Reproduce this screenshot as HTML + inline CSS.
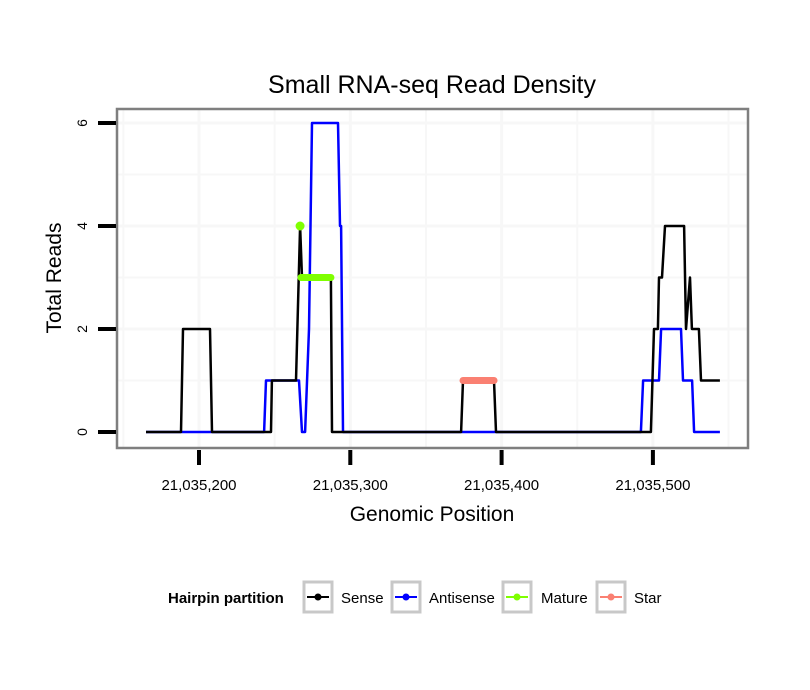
<!DOCTYPE html>
<html><head><meta charset="utf-8"><style>
body{margin:0;background:#fff;}
svg{display:block;font-family:"Liberation Sans",sans-serif;}
</style></head><body>
<svg id="chart" width="810" height="690">
<rect x="0" y="0" width="810" height="690" fill="#fff"/>
<text x="432" y="93" font-size="25" text-anchor="middle">Small RNA-seq Read Density</text>
<text x="432" y="521" font-size="21" text-anchor="middle">Genomic Position</text>
<text transform="translate(61,278) rotate(-90)" font-size="21" text-anchor="middle">Total Reads</text>
<g id="panel"></g>
<g>
<text x="168" y="603" font-size="15" font-weight="bold">Hairpin partition</text>
<g>
<rect x="304" y="582" width="28" height="30" fill="#fff" stroke="#c8c8c8" stroke-width="3"/>
<line x1="307" y1="597" x2="329" y2="597" stroke="#000" stroke-width="2"/><circle cx="318" cy="597" r="3.5" fill="#000"/>
<text x="341" y="603" font-size="15">Sense</text></g>
<g>
<rect x="392" y="582" width="28" height="30" fill="#fff" stroke="#c8c8c8" stroke-width="3"/>
<line x1="395" y1="597" x2="417" y2="597" stroke="#0000ff" stroke-width="2"/><circle cx="406" cy="597" r="3.5" fill="#0000ff"/>
<text x="429" y="603" font-size="15">Antisense</text></g>
<g>
<rect x="503" y="582" width="28" height="30" fill="#fff" stroke="#c8c8c8" stroke-width="3"/>
<line x1="506" y1="597" x2="528" y2="597" stroke="#7fff00" stroke-width="2"/><circle cx="517" cy="597" r="3.5" fill="#7fff00"/>
<text x="541" y="603" font-size="15">Mature</text></g>
<g>
<rect x="597" y="582" width="28" height="30" fill="#fff" stroke="#c8c8c8" stroke-width="3"/>
<line x1="600" y1="597" x2="622" y2="597" stroke="#fa8072" stroke-width="2"/><circle cx="611" cy="597" r="3.5" fill="#fa8072"/>
<text x="634" y="603" font-size="15">Star</text></g>
</g>
</svg>
<script>
// positions are offsets from 21,035,000
const xTicks = [200, 300, 400, 500];
const xTickLabels = ["21,035,200", "21,035,300", "21,035,400", "21,035,500"];
const yTicks = [0, 2, 4, 6];
const senseX = [165, 188.1, 189.4, 207.3, 208.6, 247.6, 248.2, 264.1, 266.8, 268.1, 287.2, 287.9, 373.2, 374.5, 395, 396.3, 498.7, 500.7, 503.3, 504, 506, 508, 520.6, 521.9, 524.5, 525.8, 530.4, 531.8, 544.3];
const senseY = [0, 0, 2, 2, 0, 0, 1, 1, 4, 3, 3, 0, 0, 1, 1, 0, 0, 2, 2, 3, 3, 4, 4, 2, 3, 2, 2, 1, 1];
const antiX = [165, 243, 244.3, 266.1, 268.1, 270.1, 272.7, 274.7, 291.9, 293.2, 293.9, 295.2, 492.1, 493.5, 504, 505.4, 518.6, 519.9, 525.9, 527.2, 544.3];
const antiY = [0, 0, 1, 1, 0, 0, 2, 6, 6, 4, 4, 0, 0, 1, 1, 2, 2, 1, 1, 0, 0];
const matureX = [267.4, 287.2];
const matureY = [3, 3];
const maturePeakX = [266.8];
const maturePeakY = [4];
const starX = [374.5, 395];
const starY = [1, 1];

const NS = "http://www.w3.org/2000/svg";
const L = 117, R = 748, T = 109, B = 448;
function sx(v){ return 199 + (v - 200) * 1.513; }
function sy(v){ return 432 - v * 51.5; }
const panel = document.getElementById('panel');
function mk(tag, attrs, parent){ const e = document.createElementNS(NS, tag); for (const k in attrs) e.setAttribute(k, attrs[k]); (parent||panel).appendChild(e); return e; }

const bg = mk('rect', {x:L, y:T, width:R-L, height:B-T, fill:'#fff'});


for (let v = 1; v <= 6; v++) {
  const g = mk('line', {x1:L, x2:R, y1:sy(v), y2:sy(v), stroke:'#f7f7f7', 'stroke-width': v%2 ? 2 : 3});
  
  
}
for (let v = 150; v <= 550; v += 50) {
  const g = mk('line', {x1:sx(v), x2:sx(v), y1:T, y2:B, stroke:'#f7f7f7', 'stroke-width': v%100 ? 2 : 3});
  
  
}
function pathOf(xs, ys){
  return xs.map((x,i)=>(i?'L':'M')+sx(x).toFixed(1)+','+sy(ys[i]).toFixed(1)).join(' ');
}
const anti = mk('path', {d:pathOf(antiX, antiY), fill:'none', stroke:'#0000ff', 'stroke-width':2.5, 'stroke-linejoin':'round'});


const sense = mk('path', {d:pathOf(senseX, senseY), fill:'none', stroke:'#000', 'stroke-width':2.5, 'stroke-linejoin':'round'});


const mat = mk('line', {x1:sx(matureX[0]), x2:sx(matureX[1]), y1:sy(matureY[0]), y2:sy(matureY[1]), stroke:'#7fff00', 'stroke-width':7, 'stroke-linecap':'round'});


const mp = mk('circle', {cx:sx(maturePeakX[0]), cy:sy(maturePeakY[0]), r:4.5, fill:'#7fff00'});


const st = mk('line', {x1:sx(starX[0]), x2:sx(starX[1]), y1:sy(starY[0]), y2:sy(starY[1]), stroke:'#fa8072', 'stroke-width':7, 'stroke-linecap':'round'});


const border = mk('rect', {x:L, y:T, width:R-L, height:B-T, fill:'none', stroke:'#7f7f7f', 'stroke-width':2.5});


yTicks.forEach(v => {
  const t = mk('line', {x1:98, x2:116, y1:sy(v), y2:sy(v), stroke:'#000', 'stroke-width':4});
  
  
  const lb = mk('text', {transform:'translate('+87+','+sy(v)+') rotate(-90)', 'font-size':14, 'text-anchor':'middle'});
  lb.textContent = v;
  
  
});
xTicks.forEach((v,i) => {
  const t = mk('line', {x1:sx(v), x2:sx(v), y1:450, y2:465, stroke:'#000', 'stroke-width':4});
  
  
  const lb = mk('text', {x:sx(v), y:490, 'font-size':15, 'text-anchor':'middle'});
  lb.textContent = xTickLabels[i];
  
  
});
</script>
</body></html>
